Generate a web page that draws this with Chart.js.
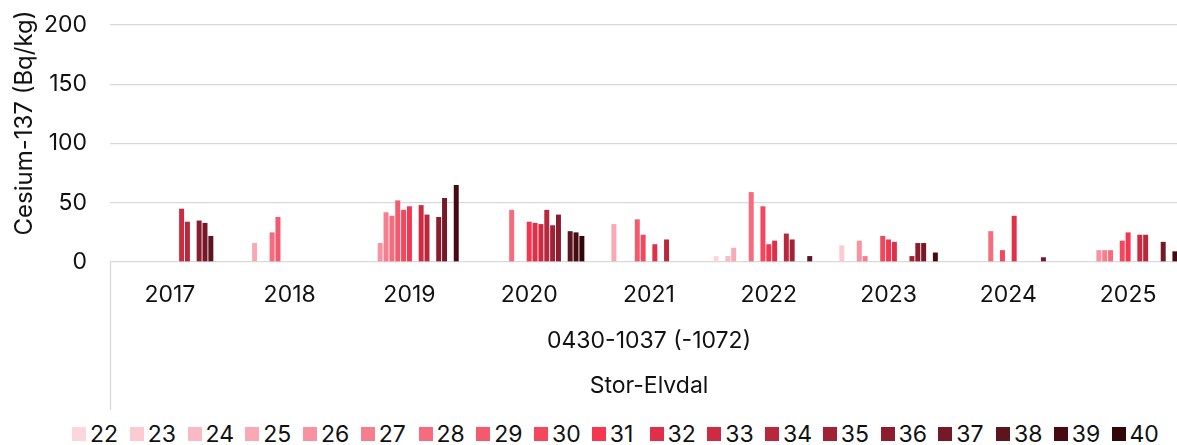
<!DOCTYPE html>
<html>
<head>
<meta charset="utf-8">
<script src="https://cdn.jsdelivr.net/npm/chart.js@4"></script>
<style>
  html, body { margin: 0; padding: 0; background: #fff; overflow: hidden; }
  #wrap { position: relative; width: 1177px; height: 445px; overflow: hidden; }
  #chart { position: absolute; left: 0; top: 0; }
  #legend { position: absolute; left: 0; top: 422px; width: 1177px; height: 24px;
            font-family: Inter, sans-serif; font-size: 23px; color: #111; }
  .item { position: absolute; top: 0; height: 24px; display: flex; align-items: center; white-space: nowrap; }
  .sw { width: 14px; height: 14px; margin-right: 4px; flex: none; }
</style>
</head>
<body>
<div id="wrap">
  <canvas id="chart" width="1232" height="415"></canvas>
  <div id="legend"></div>
</div>
<script>
// kategorier (år) og serier (uke 22-40)
const years = ['2017', '2018', '2019', '2020', '2021', '2022', '2023', '2024', '2025'];
const weeks = [22, 23, 24, 25, 26, 27, 28, 29, 30, 31, 32, 33, 34, 35, 36, 37, 38, 39, 40];
const colors = ['#fdd6dd', '#fccad2', '#fbb9c3', '#faa8b4', '#f892a1', '#f77e8e', '#f66c7e', '#f5596d',
                '#f4475d', '#f43650', '#e02f48', '#cc2b42', '#b8273c', '#a22235', '#8c1c2e', '#741927',
                '#5c141f', '#480a12', '#320509'];
const yTicks = [0, 50, 100, 150, 200];
const groupLabel = '0430-1037 (-1072)';
const areaLabel = 'Stor-Elvdal';

// verdier per år, en plass per uke (22..40)
const v2017 = [null, null, null, null, null, null, null, null, null, null, null, 45, 34, null, 35, 33, 22, null, null];
const v2018 = [null, null, null, 16, null, null, 25, 38, null, null, null, null, null, null, null, null, null, null, null];
const v2019 = [null, null, null, null, 16, 42, 39, 52, 44, 47, null, 48, 40, null, 38, 54, null, 65, null];
const v2020 = [null, null, null, null, null, null, 44, null, null, 34, 33, 32, 44, 31, 40, null, 26, 25, 22];
const v2021 = [null, null, null, 32, null, null, null, 36, 23, null, 15, null, 19, null, null, null, null, null, null];
const v2022 = [5, null, 5, 12, null, null, 59, null, 47, 15, 18, null, 24, 19, null, null, 5, null, null];
const v2023 = [null, 14, null, null, 18, 5, null, null, 22, 19, 17, null, null, 5, 16, 16, null, 8, null];
const v2024 = [null, null, null, null, null, null, 26, null, 10, null, 39, null, null, null, null, 4, null, null, null];
const v2025 = [null, null, null, null, 10, 10, 10, null, 18, 25, null, 23, 23, null, null, 17, null, 9, null];
const rows = [v2017, v2018, v2019, v2020, v2021, v2022, v2023, v2024, v2025];

const FONT = 'Inter, sans-serif';
const GRID = '#d9d9d9';

const datasets = weeks.map((w, i) => ({
  label: String(w),
  data: rows.map(r => r[i]),
  backgroundColor: colors[i],
  borderWidth: 0,
  categoryPercentage: 0.928,
  barPercentage: 0.85
}));

// venstre skillelinje og y-tittel
const extras = {
  id: 'extras',
  afterDraw(chart) {
    const ctx = chart.ctx;
    const a = chart.chartArea;
    ctx.save();
    ctx.strokeStyle = GRID;
    ctx.lineWidth = 1.3;
    ctx.beginPath();
    ctx.moveTo(a.left + 0.5, a.bottom);
    ctx.lineTo(a.left + 0.5, 410);
    ctx.stroke();

    ctx.translate(25, 123);
    ctx.rotate(-Math.PI / 2);
    ctx.fillStyle = '#111';
    ctx.font = '24px ' + FONT;
    ctx.textAlign = 'center';
    ctx.textBaseline = 'middle';
    ctx.fillText('Cesium-137 (Bq/kg)', 0, 0);
    ctx.restore();
  }
};

new Chart(document.getElementById('chart').getContext('2d'), {
  type: 'bar',
  data: { labels: years, datasets: datasets },
  options: {
    responsive: false,
    animation: false,
    layout: { padding: { top: 25, right: 44, left: 0, bottom: 0 } },
    plugins: { legend: { display: false }, tooltip: { enabled: false } },
    scales: {
      x: {
        grid: { display: false },
        border: { display: false },
        ticks: { color: '#111', font: { family: FONT, size: 23 }, padding: 11, maxRotation: 0 },
        title: {
          display: true,
          text: [groupLabel, areaLabel],
          color: '#111',
          font: { family: FONT, size: 23, lineHeight: '45px' },
          padding: { top: 0, bottom: 6 }
        },
        afterFit: s => { s.height = 153; }
      },
      y: {
        min: 0,
        max: 200,
        afterBuildTicks: s => { s.ticks = yTicks.map(v => ({ value: v })); },
        ticks: { color: '#111', font: { family: FONT, size: 23 }, padding: 23 },
        grid: { color: GRID, lineWidth: 1.3, drawTicks: false },
        border: { display: false },
        afterFit: s => { s.width = 110; s.paddingTop = 0; s.paddingBottom = 0; }
      }
    }
  },
  plugins: [extras]
});

// legende
const legend = document.getElementById('legend');
weeks.forEach((w, i) => {
  const item = document.createElement('div');
  item.className = 'item';
  item.style.left = (72 + i * 57.75) + 'px';
  item.innerHTML = `<span class="sw" style="background:${colors[i]}"></span><span>${w}</span>`;
  legend.appendChild(item);
});
</script>
</body>
</html>
